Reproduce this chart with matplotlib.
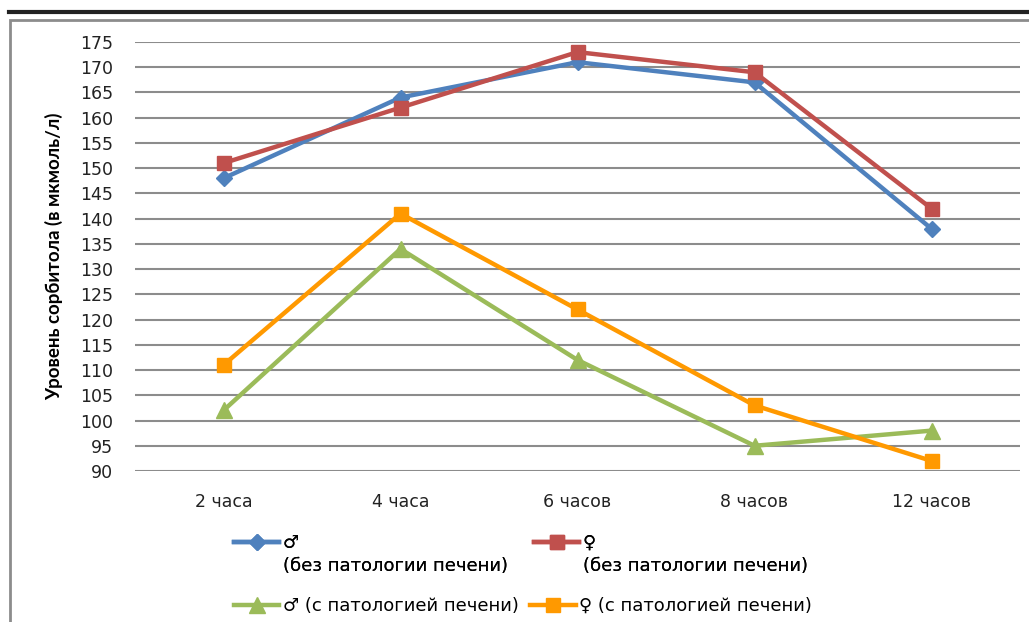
import matplotlib.pyplot as plt
from matplotlib.lines import Line2D
from matplotlib.patches import Rectangle

# Sorbitol level over time, four groups
hours = ['2 часа', '4 часа', '6 часов', '8 часов', '12 часов']
male_healthy = [148, 164, 171, 167, 138]
female_healthy = [151, 162, 173, 169, 142]
male_patho = [102, 134, 112, 95, 98]
female_patho = [111, 141, 122, 103, 92]

yticks = list(range(90, 176, 5))

plt.rcParams['font.family'] = ['DejaVu Sans']

fig = plt.figure(figsize=(10.29, 6.22), dpi=100)

# page rule and chart frame
fig.add_artist(Line2D([9/1029, 1], [1-12/622, 1-12/622], color='#222222', lw=3,
                      transform=fig.transFigure))
fig.add_artist(Rectangle((10/1029, -0.1), 1.2, 1.1 - 20/622, fill=False,
                         edgecolor='#8c8c8c', lw=2, transform=fig.transFigure))

ax = fig.add_axes([135/1029, 1-471/622, 885/1029, 429/622])
x = range(len(hours))

lw = 3.2
ax.plot(x, male_healthy, color='#4F81BD', lw=lw, marker='D', ms=8, zorder=3)
ax.plot(x, female_healthy, color='#C0504D', lw=lw, marker='s', ms=10, zorder=3)
ax.plot(x, male_patho, color='#9BBB59', lw=lw, marker='^', ms=11, zorder=3)
ax.plot(x, female_patho, color='#FF9900', lw=lw, marker='s', ms=10, zorder=3)

ax.set_xlim(-0.5, 4.5)
ax.set_ylim(90, 175)
ax.set_yticks(yticks)
ax.set_xticks(list(x))
ax.set_xticklabels(hours)
ax.tick_params(axis='both', length=0, labelsize=12.5, colors='#222222')
ax.tick_params(axis='y', pad=16)
ax.tick_params(axis='x', pad=16)
ax.yaxis.grid(True, color='#8c8c8c', lw=1.5)
ax.set_axisbelow(True)
for s in ax.spines.values():
    s.set_visible(False)

ax.set_ylabel('Уровень сорбитола (в мкмоль/л)', fontsize=13.5, fontweight='bold',
              family='Lato')
ax.yaxis.set_label_coords(-0.081, 0.5)

# legend: upper block (two-line entries) and lower row
def handle(c, m, ms):
    return Line2D([], [], color=c, lw=lw, marker=m, ms=ms)

blank = Line2D([], [], color='none')
top = fig.legend(
    [handle('#4F81BD', 'D', 8), blank, handle('#C0504D', 's', 10), blank],
    ['♂', '(без патологии печени)', '♀', '(без патологии печени)'],
    ncol=2, loc='upper left', bbox_to_anchor=(225/1029, 1-525/622),
    frameon=False, fontsize=13, handlelength=2.5, handletextpad=0.2,
    columnspacing=1.45, labelspacing=0.3, borderpad=0)
bottom = fig.legend(
    [handle('#9BBB59', '^', 11), handle('#FF9900', 's', 10)],
    ['♂ (с патологией печени)', '♀ (с патологией печени)'],
    ncol=2, loc='upper left', bbox_to_anchor=(225/1029, 1-588/622),
    frameon=False, fontsize=13, handlelength=2.5, handletextpad=0.2,
    columnspacing=0.65, borderpad=0)
fig.add_artist(top)

fig.savefig('out.png', dpi=100)
